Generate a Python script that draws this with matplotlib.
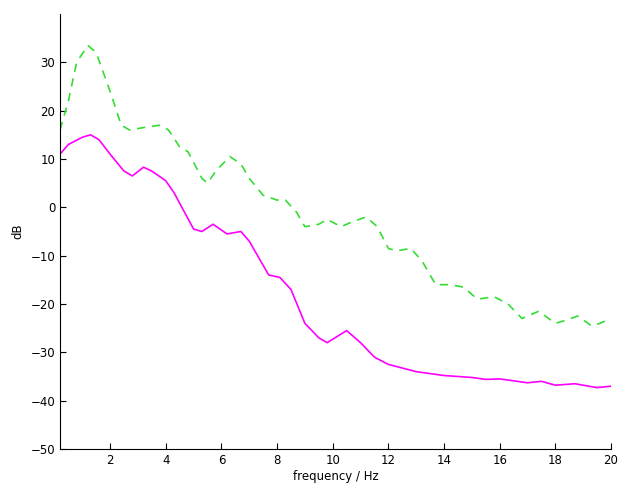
import matplotlib
matplotlib.use("Agg")
import matplotlib.pyplot as plt

mag_x = [0.2,0.5,1,1.3,1.6,2,2.5,2.8,3.2,3.5,4,4.3,5,5.3,5.7,6.2,6.7,7,7.7,8.1,8.5,9,9.5,9.8,10.5,11,11.5,12,13,14,14.5,15,15.5,16,17,17.5,18,18.7,19.5,20]
mag_y = [11,13,14.5,15,14,11,7.5,6.5,8.3,7.5,5.5,3,-4.5,-5,-3.5,-5.5,-5,-7,-14,-14.5,-17,-24,-27,-28,-25.5,-28,-31,-32.5,-34,-34.8,-35,-35.2,-35.6,-35.5,-36.3,-36,-36.8,-36.5,-37.3,-37]
grn_x = [0.2,0.5,0.8,1.2,1.5,2,2.4,2.7,3.2,3.8,4.1,4.5,4.8,5.3,5.5,5.8,6.3,6.7,7,7.5,8,8.3,8.7,9,9.5,9.8,10.3,10.7,11.2,11.6,12,12.3,12.8,13.2,13.7,14.2,14.7,15.2,15.8,16.3,16.8,17.4,18,18.3,18.8,19.3,19.6,20]
grn_y = [16,22,30,33.5,32,24,17,16,16.5,17,16,12.5,11.5,6,5,7.5,10.5,9,6,2.5,1.5,1.5,-1,-4,-3.5,-2.5,-4,-3,-2,-4,-8.5,-9,-8.5,-11,-16,-16,-16.5,-19,-18.5,-20,-23,-21.5,-24,-23.5,-22.5,-24.5,-24,-23]
xticks = [2,4,6,8,10,12,14,16,18,20]
yticks = [-50,-40,-30,-20,-10,0,10,20,30]

fig = plt.figure(figsize=(6.21,4.93), dpi=100)
ax = fig.add_axes([60/621, 44/493, 551/621, 435/493])
ax.plot(grn_x, grn_y, color="#33dd33", ls=(0,(5,4)), lw=1.2)
ax.plot(mag_x, mag_y, color="#ff00ff", lw=1.2)
ax.set_xlim(0.2, 20)
ax.set_ylim(-50, 40)
ax.set_xticks(xticks)
ax.set_yticks(yticks)
ax.set_yticklabels([str(v).replace('-', '\u2212') for v in yticks])
for s in ["top","right"]:
    ax.spines[s].set_visible(False)
ax.tick_params(direction="in", labelsize=8.5, length=4)
ax.set_xlabel("frequency / Hz", fontsize=8.5, labelpad=2)
ax.set_ylabel("dB", fontsize=8.5)
fig.savefig("out.png", dpi=100)
